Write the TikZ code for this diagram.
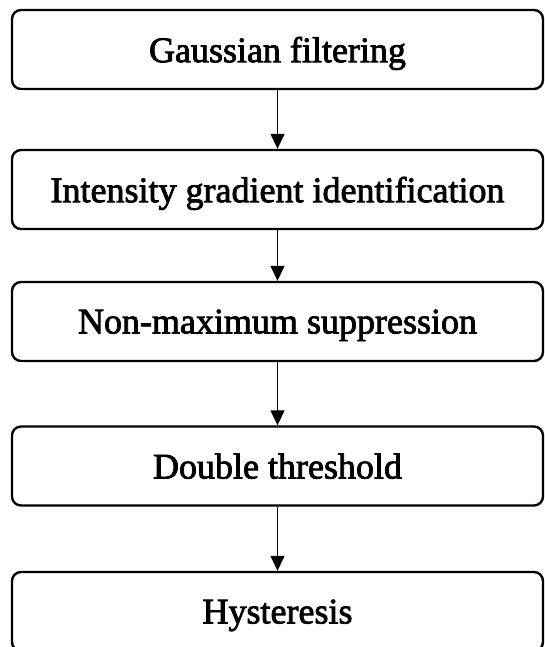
\documentclass[tikz,border=0pt]{standalone}
\usepackage{fontspec}
\setmainfont{Liberation Serif}[FakeBold=2.2]
\usetikzlibrary{arrows.meta}

\begin{document}
\begin{tikzpicture}[x=1pt, y=-1pt, line width=2.4pt, every node/.style={font=\fontsize{36}{40}\selectfont}]
    \tikzstyle{stepbox}=[rectangle, rounded corners=9pt, minimum width=531pt, minimum height=79pt, draw=black, fill=none, inner sep=0pt, text depth=0pt]  % Rounded boxes
    \tikzstyle{flow}=[line width=1.4pt, -{Triangle[width=14pt,length=15pt]}]

    \useasboundingbox (0,0) rectangle (545,647);
    \clip (0,0) rectangle (545,647);

    % Processing steps
    \node[stepbox] (gauss) at (277.5,49.5) {Gaussian filtering};
    \node[stepbox] (grad) at (277.5,189.5) {Intensity gradient identification};
    \node[stepbox] (nms) at (277.5,321.5) {Non-maximum suppression};
    \node[stepbox] (thresh) at (277.5,466) {Double threshold};
    \node[stepbox] (hyst) at (277.5,611.5) {Hysteresis};

    % Connect the steps
    \draw[flow] (gauss) -- (grad);
    \draw[flow] (grad) -- (nms);
    \draw[flow] (nms) -- (thresh);
    \draw[flow] (thresh) -- (hyst);

\end{tikzpicture}
\end{document}
